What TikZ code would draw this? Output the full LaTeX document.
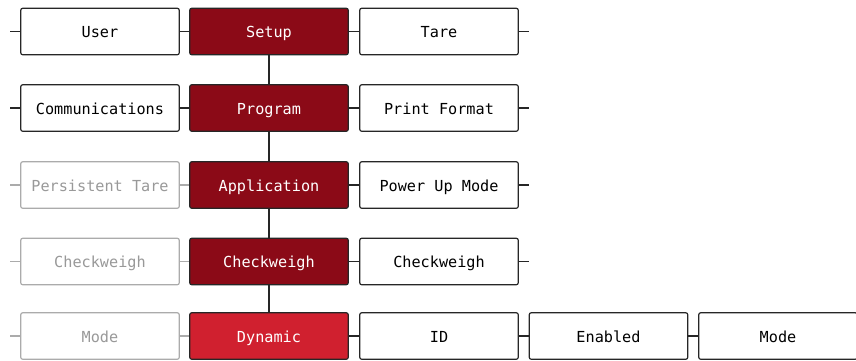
\documentclass[tikz,border=0pt]{standalone}
\usepackage{fontspec}
\setmonofont{DejaVu Sans Mono}
\usetikzlibrary{positioning}
\definecolor{menured}{HTML}{8B0A17}
\definecolor{activered}{HTML}{D0202F}
\definecolor{offgray}{HTML}{ABABAB}
\definecolor{offtext}{HTML}{999999}

\begin{document}
\begin{tikzpicture}[x=1pt,y=-1pt,
	menu/.style={rectangle,rounded corners=2pt,draw=black!85,line width=1.2pt,fill=white,
		minimum width=158.5pt,minimum height=46.5pt,inner sep=0pt,
		text height=12.2pt,text depth=0pt,
		font=\ttfamily\fontsize{15.2}{18}\selectfont},
	crumb/.style={menu,fill=menured,text=white},
	current/.style={menu,fill=activered,text=white},
	faded/.style={menu,draw=offgray,text=offtext},
	wire/.style={line width=1.2pt,draw=black!85},
	fadedwire/.style={wire,draw=offgray}]
	
	\useasboundingbox (0,0) rectangle (856,360);
	\clip (0,0) rectangle (856,360);
	
	% path column
	\node[crumb] (setup) at (269,31.5) {Setup};
	\node[crumb] (program) at (269,108) {Program};
	\node[crumb] (application) at (269,185) {Application};
	\node[crumb] (checkweigh) at (269,261.5) {Checkweigh};
	\node[current] (dynamic) at (269,336) {Dynamic};
	
	% left column
	\node[menu] (user) at (100,31.5) {User};
	\node[menu] (comms) at (100,108) {Communications};
	\node[faded] (ptare) at (100,185) {Persistent Tare};
	\node[faded] (lcheck) at (100,261.5) {Checkweigh};
	\node[faded] (lmode) at (100,336) {Mode};
	
	% right column
	\node[menu] (tare) at (439,31.5) {Tare};
	\node[menu] (printfmt) at (439,108) {Print Format};
	\node[menu] (powerup) at (439,185) {Power Up Mode};
	\node[menu] (rcheck) at (439,261.5) {Checkweigh};
	\node[menu] (id) at (439,336) {ID};
	\node[menu] (enabled) at (608.5,336) {Enabled};
	\node[menu] (mode) at (778,336) {Mode};
	
	% free ends of the stubs
	\foreach \n/\y in {1/31.5,2/108,3/185,4/261.5,5/336}
		\coordinate (in\n) at (10,\y);
	\foreach \n/\y in {1/31.5,2/108,3/185,4/261.5}
		\coordinate (out\n) at (529,\y);
	
	\draw[wire] (in1) -- (user) -- (setup) -- (tare) -- (out1);
	\draw[wire] (in2) -- (comms) -- (program) -- (printfmt) -- (out2);
	\draw[fadedwire] (in3) -- (ptare) -- (application);
	\draw[wire] (application) -- (powerup) -- (out3);
	\draw[fadedwire] (in4) -- (lcheck) -- (checkweigh);
	\draw[wire] (checkweigh) -- (rcheck) -- (out4);
	\draw[fadedwire] (in5) -- (lmode) -- (dynamic);
	\draw[wire] (dynamic) -- (id) -- (enabled) -- (mode);
	
	\draw[wire] (setup) -- (program) -- (application) -- (checkweigh) -- (dynamic);
	
\end{tikzpicture}
\end{document}
